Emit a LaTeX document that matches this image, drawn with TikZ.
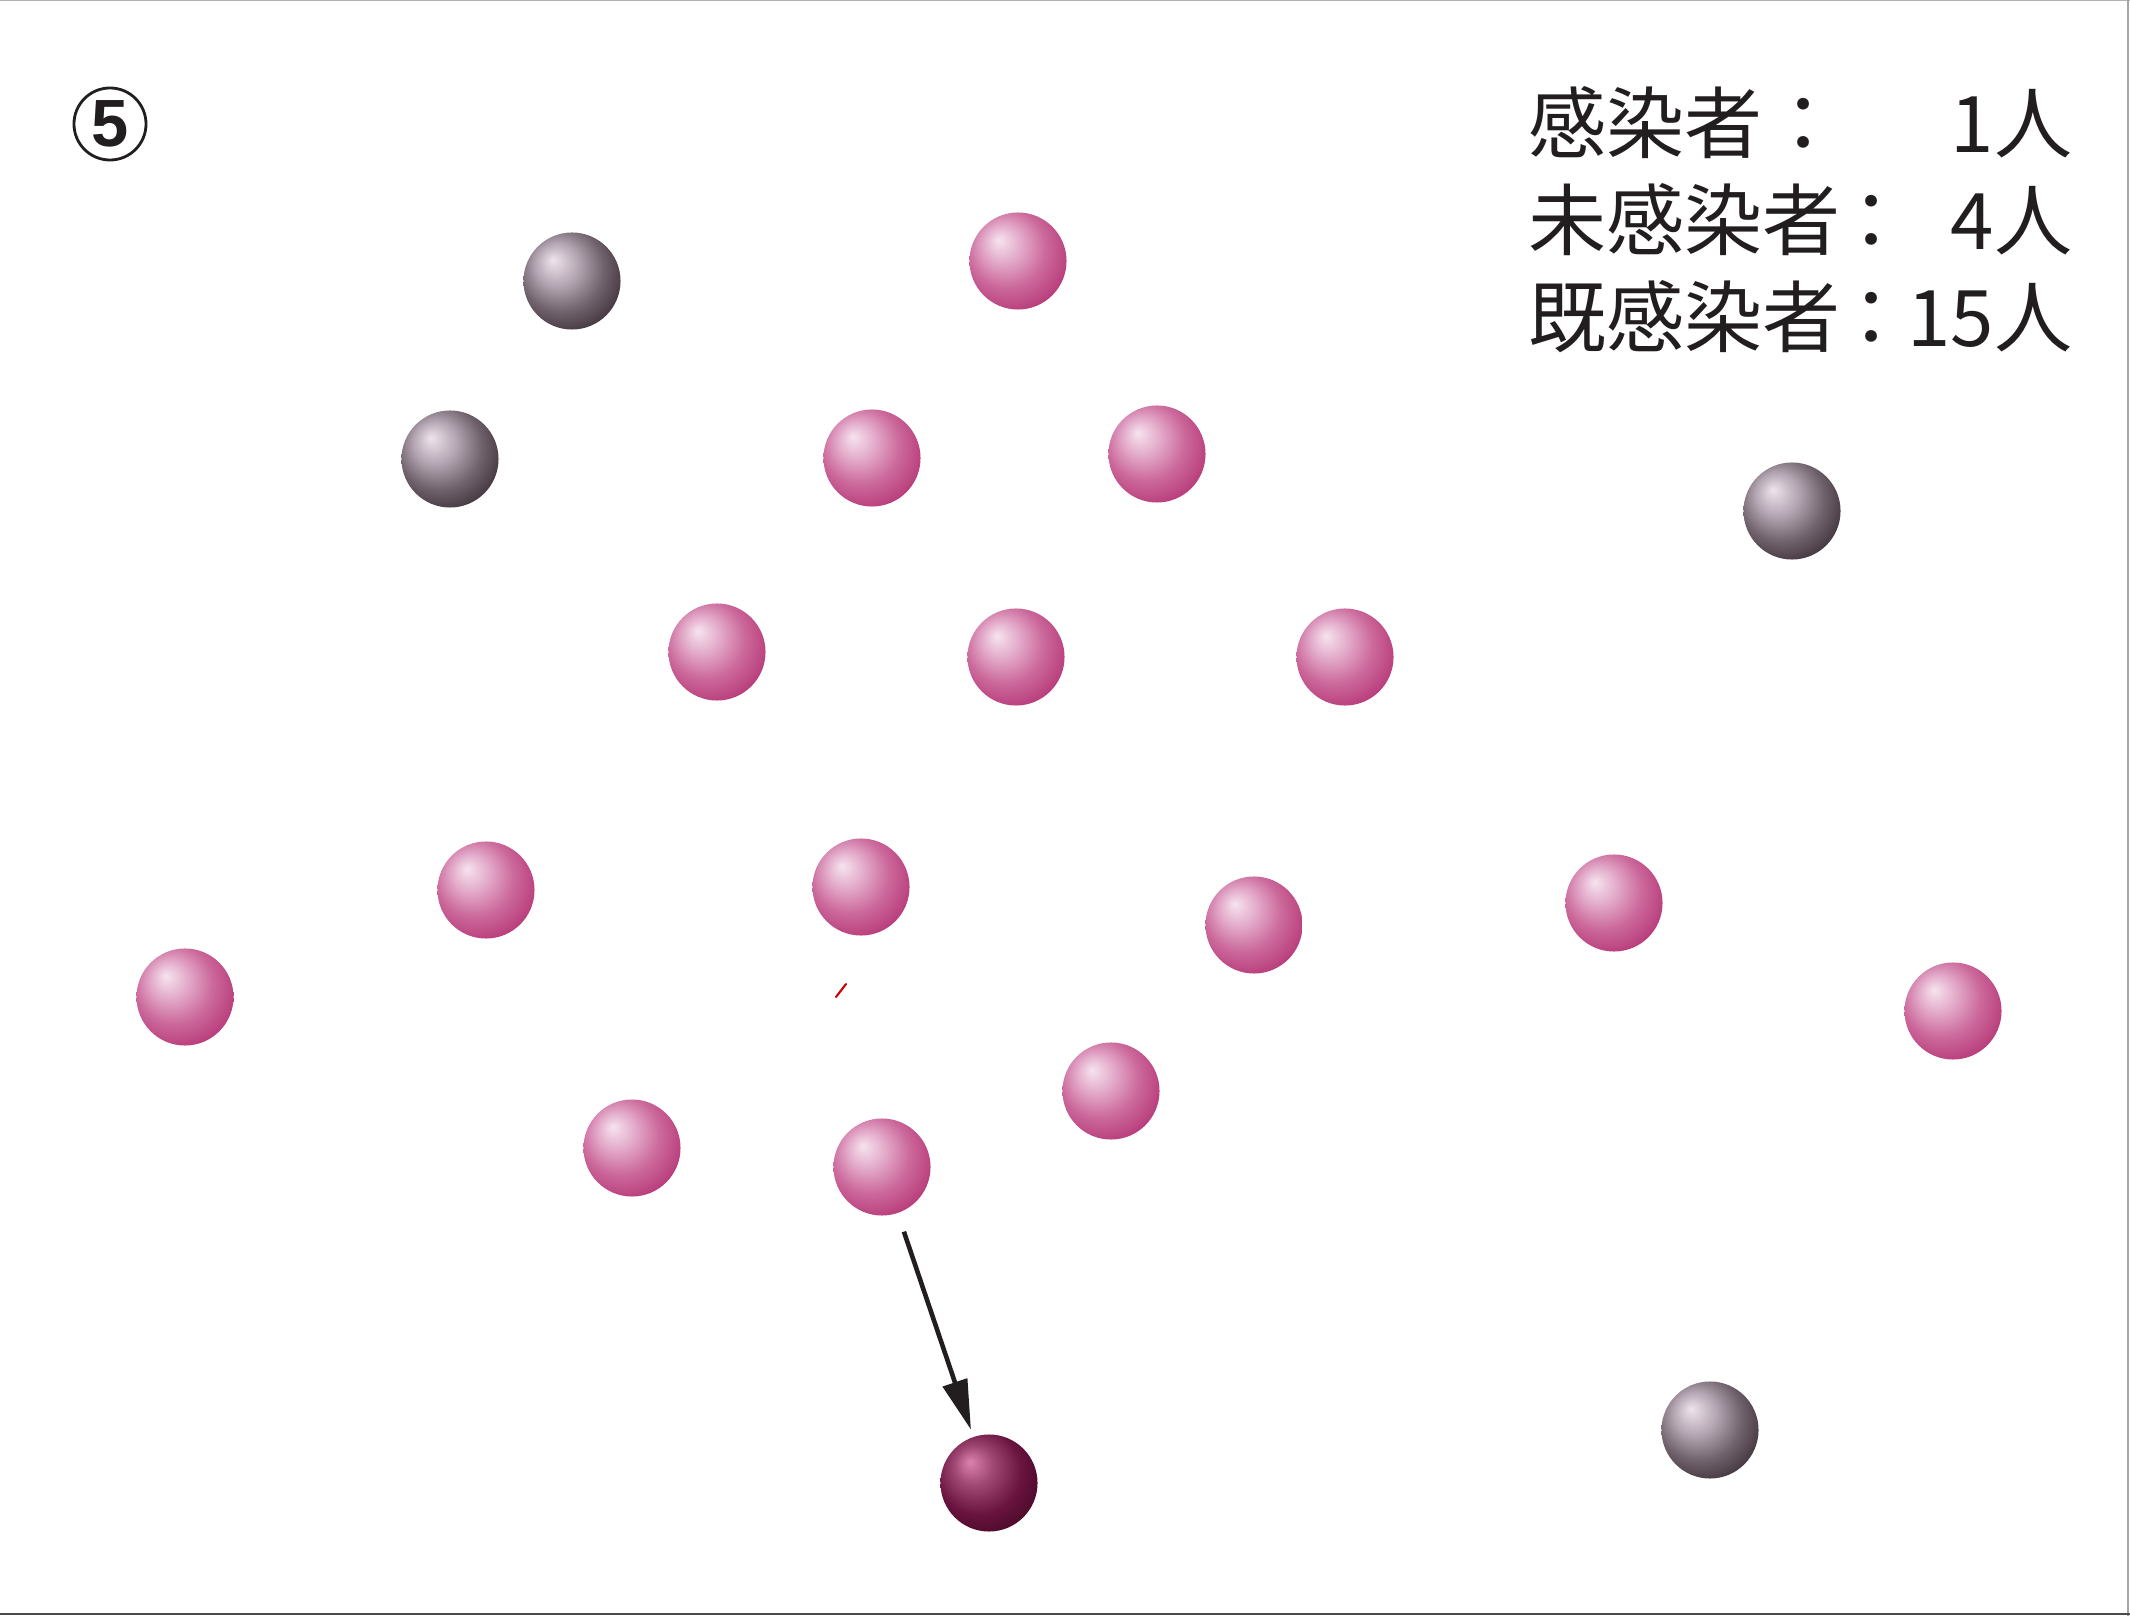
\documentclass[tikz,border=0pt]{standalone}
\usepackage{fontspec}
\usetikzlibrary{arrows.meta}
\newfontfamily\jpfont{Noto Sans CJK JP}
\newfontfamily\numfont{Liberation Sans}
\definecolor{inkc}{RGB}{34,30,31}
\pgfdeclareradialshading{pinkball}{\pgfpoint{-10bp}{11bp}}{%
  color(0bp)=(rgb,255:red,246;green,228;blue,239);
  color(10bp)=(rgb,255:red,226;green,168;blue,200);
  color(20bp)=(rgb,255:red,204;green,106;blue,156);
  color(31bp)=(rgb,255:red,184;green,60;blue,122);
  color(50bp)=(rgb,255:red,180;green,56;blue,118)}
\pgfdeclareradialshading{greyball}{\pgfpoint{-10bp}{11bp}}{%
  color(0bp)=(rgb,255:red,238;green,228;blue,238);
  color(11bp)=(rgb,255:red,180;green,166;blue,178);
  color(22bp)=(rgb,255:red,112;green,98;blue,108);
  color(32bp)=(rgb,255:red,64;green,52;blue,60);
  color(50bp)=(rgb,255:red,60;green,48;blue,56)}
\pgfdeclareradialshading{darkball}{\pgfpoint{-10bp}{11bp}}{%
  color(0bp)=(rgb,255:red,220;green,130;blue,176);
  color(10bp)=(rgb,255:red,160;green,72;blue,116);
  color(22bp)=(rgb,255:red,106;green,20;blue,64);
  color(33bp)=(rgb,255:red,72;green,8;blue,38);
  color(50bp)=(rgb,255:red,68;green,6;blue,36)}
\tikzset{
  ballbase/.style={circle, minimum size=0.97cm, inner sep=0pt, draw=none},
  pball/.style={ballbase, shading=pinkball},
  gball/.style={ballbase, shading=greyball},
  dball/.style={ballbase, shading=darkball},
  jp/.style={font=\jpfont\fontsize{22.2pt}{26pt}\selectfont, text=inkc, inner sep=0pt},
  movearrow/.style={draw=inkc, line width=1.3pt, -{Triangle[length=0.5cm,width=0.25cm]}, shorten <=0.19cm, shorten >=0.07cm},
}
\begin{document}
\begin{tikzpicture}[x=0.01cm,y=-0.01cm]
\useasboundingbox (0,0) rectangle (2130,1616);
\draw[gray!60, line width=0.3pt] (0,0) -- (2130,0);
\draw[gray!70, line width=0.6pt] (2128,0) -- (2128,1616);
\draw[inkc!80, line width=0.6pt] (0,1614) -- (2130,1614);
% circled number
\node[circle, draw=inkc, line width=0.8pt, minimum size=0.72cm, inner sep=0pt,
  font=\numfont\bfseries\fontsize{19pt}{22pt}\selectfont, text=inkc] (num) at (110,124) {5};
% counts
\node[jp, anchor=base west] (l1a) at (1528,153) {感染者};
\node[jp, anchor=base] (l1c) at (1804,153) {：};
\node[jp, anchor=base east] (l1n) at (2073,153) {1人};
\node[jp, anchor=base west] (l2a) at (1528,250) {未感染者};
\node[jp, anchor=base] (l2c) at (1872,250) {：};
\node[jp, anchor=base east] (l2n) at (2073,250) {4人};
\node[jp, anchor=base west] (l3a) at (1528,347) {既感染者};
\node[jp, anchor=base] (l3c) at (1872,347) {：};
\node[jp, anchor=base east] (l3n) at (2073,347) {15人};
% grey balls
\node[gball] (g1) at (572,281) {};
\node[gball] (g2) at (450,459) {};
\node[gball] (g3) at (1792,511) {};
\node[gball] (g4) at (1710,1430) {};
% pink balls
\node[pball] (p1) at (1018,261) {};
\node[pball] (p2) at (872,458) {};
\node[pball] (p3) at (1157,454) {};
\node[pball] (p4) at (717,652) {};
\node[pball] (p5) at (1016,657) {};
\node[pball] (p6) at (1345,657) {};
\node[pball] (p7) at (486,890) {};
\node[pball] (p8) at (861,887) {};
\node[pball] (p9) at (1254,925) {};
\node[pball] (p10) at (1614,903) {};
\node[pball] (p11) at (185,997) {};
\node[pball] (p12) at (1953,1011) {};
\node[pball] (p13) at (1111,1091) {};
\node[pball] (p14) at (632,1148) {};
\node[pball] (p15) at (882,1167) {};
% infected ball
\node[dball] (d1) at (989,1483) {};
% red tick
\coordinate (t1) at (836,997);
\coordinate (t2) at (846,984);
\draw[red!80!black, line width=0.6pt, line cap=round] (t1) -- (t2);
% arrow
\draw[movearrow] (p15) -- (d1);
\end{tikzpicture}
\end{document}
